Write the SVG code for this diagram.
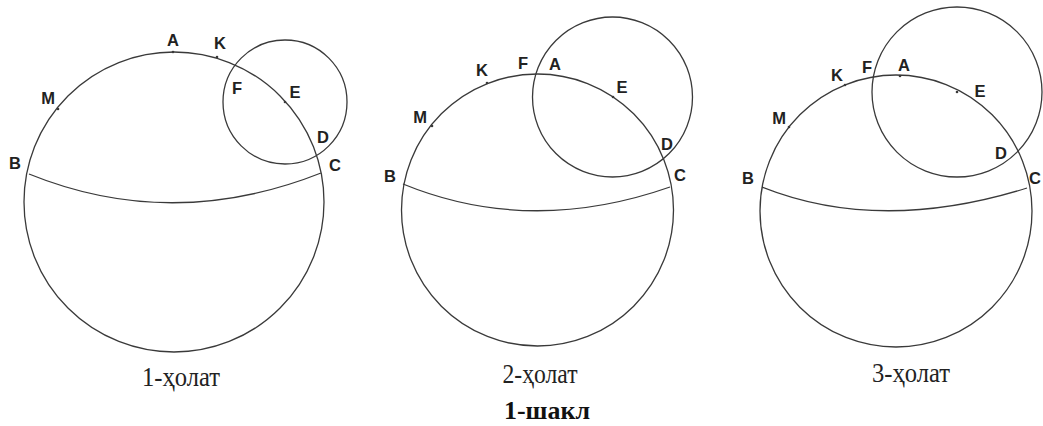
<svg xmlns="http://www.w3.org/2000/svg" width="1043" height="426" viewBox="0 0 1043 426">
<style>
.c{fill:none;stroke:#3a3a3a;stroke-width:1.3}
.t{fill:#3a3a3a;stroke:none}
.l{font-family:"Liberation Sans",Arial,sans-serif;font-weight:bold;font-size:16.5px;fill:#222;text-anchor:middle}
.cap{font-family:"Liberation Serif","Times New Roman",serif;font-size:28px;fill:#222;text-anchor:middle}
.title{font-family:"Liberation Serif","Times New Roman",serif;font-weight:bold;font-size:25px;fill:#111;text-anchor:middle}
</style>
<rect width="1043" height="426" fill="#ffffff"/>

<g id="fig1">
  <circle class="c" cx="174" cy="202" r="150"/>
  <circle class="c" cx="285" cy="102" r="62"/>
  <path class="c" d="M29,174 Q172,232 321,173"/>
  <circle class="t" cx="173" cy="52" r="1.3"/>
  <circle class="t" cx="217" cy="57" r="1.3"/>
  <circle class="t" cx="58" cy="109" r="1.3"/>
  <circle class="t" cx="285" cy="102" r="1.3"/>
  <text class="l" x="173" y="46">A</text>
  <text class="l" x="220" y="49">K</text>
  <text class="l" x="48" y="104">M</text>
  <text class="l" x="237" y="94">F</text>
  <text class="l" x="295" y="98">E</text>
  <text class="l" x="323" y="143">D</text>
  <text class="l" x="335" y="171">C</text>
  <text class="l" x="15" y="169">B</text>
  <text class="cap" x="181" y="386" textLength="78" lengthAdjust="spacingAndGlyphs">1-ҳолат</text>
</g>

<g id="fig2">
  <circle class="c" cx="537.5" cy="210" r="136"/>
  <circle class="c" cx="612.5" cy="97" r="80"/>
  <path class="c" d="M403,184 Q530,236 670,187"/>
  <circle class="t" cx="487" cy="83" r="1.3"/>
  <circle class="t" cx="432" cy="126" r="1.3"/>
  <circle class="t" cx="613" cy="97" r="1.3"/>
  <text class="l" x="523" y="69">F</text>
  <text class="l" x="555" y="70">A</text>
  <text class="l" x="482" y="76">K</text>
  <text class="l" x="420" y="123">M</text>
  <text class="l" x="622" y="93">E</text>
  <text class="l" x="667" y="150">D</text>
  <text class="l" x="680" y="181">C</text>
  <text class="l" x="390" y="182">B</text>
  <text class="cap" x="540" y="383" textLength="75" lengthAdjust="spacingAndGlyphs">2-ҳолат</text>
</g>

<g id="fig3">
  <circle class="c" cx="896" cy="211" r="136"/>
  <circle class="c" cx="957" cy="92" r="85"/>
  <path class="c" d="M762,187 Q880,234 1027,188"/>
  <circle class="t" cx="900" cy="76" r="1.3"/>
  <circle class="t" cx="845" cy="85" r="1.3"/>
  <circle class="t" cx="789" cy="127" r="1.3"/>
  <circle class="t" cx="957" cy="92" r="1.3"/>
  <text class="l" x="867" y="73">F</text>
  <text class="l" x="904" y="71">A</text>
  <text class="l" x="837" y="81">K</text>
  <text class="l" x="779" y="124">M</text>
  <text class="l" x="980" y="97">E</text>
  <text class="l" x="1001" y="159">D</text>
  <text class="l" x="1035" y="184">C</text>
  <text class="l" x="748" y="184">B</text>
  <text class="cap" x="911" y="382" textLength="78" lengthAdjust="spacingAndGlyphs">3-ҳолат</text>
</g>

<text class="title" x="547" y="419" textLength="86" lengthAdjust="spacingAndGlyphs">1-шакл</text>
</svg>
